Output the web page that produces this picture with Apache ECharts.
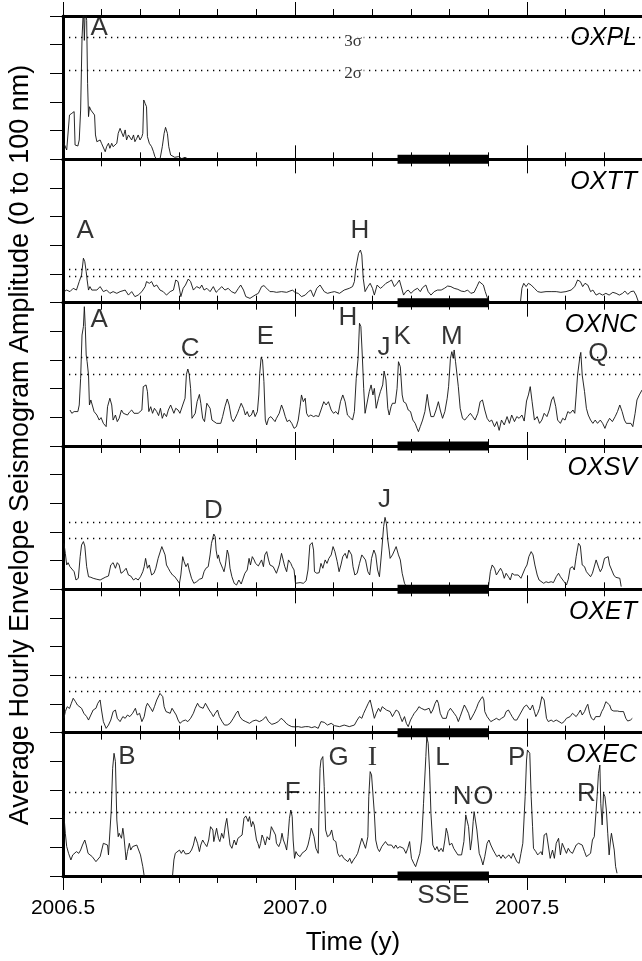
<!DOCTYPE html>
<html><head><meta charset="utf-8">
<script src="https://cdn.jsdelivr.net/npm/echarts@6/dist/echarts.min.js"></script>
<style>html,body{margin:0;padding:0;background:#fff}#c{width:642px;height:961px}</style>
</head><body><div id="c"></div>
<script>
// ---------- data ----------
const X_MIN = 2006.5, X_MAX = 2008.0, X_INTERVAL = 0.5;
const xTickLabels = ['2006.5', '2007.0', '2007.5'];
const stations = ['OXPL', 'OXTT', 'OXNC', 'OXSV', 'OXET', 'OXEC'];
const sigma3 = [84.9, 23.3, 61.9, 46.7, 38.4, 58.4];
const sigma2 = [62.3, 18.6, 50.2, 35.6, 29.1, 44.2];
const SSE = [2007.221, 2007.418];

const OXPL = [[2006.502,11.2],[2006.508,6.5],[2006.511,5.3],[2006.514,30.9],[2006.519,32.1],[2006.524,33.3],[2006.526,10],[2006.532,9.3],[2006.535,13.5],[2006.538,34.4],[2006.541,84.4],[2006.544,106],[2006.546,83],[2006.548,106],[2006.551,97],[2006.553,53],[2006.555,29.8],[2006.557,36.7],[2006.560,34.4],[2006.564,35.6],[2006.568,30.9],[2006.570,17],[2006.573,12.3],[2006.576,11.2],[2006.580,13.5],[2006.583,11.2],[2006.587,12.3],[2006.591,5.3],[2006.594,8.8],[2006.598,11.2],[2006.601,7.7],[2006.605,11.2],[2006.608,8.8],[2006.612,7.7],[2006.616,11.2],[2006.619,18.1],[2006.623,21.6],[2006.626,22.8],[2006.630,15.8],[2006.634,20.5],[2006.637,13.5],[2006.641,17],[2006.644,15.8],[2006.648,13.5],[2006.652,17],[2006.655,12.3],[2006.659,14.7],[2006.662,17],[2006.666,13.5],[2006.670,15.8],[2006.672,18.1],[2006.674,41.4],[2006.677,39],[2006.680,36.7],[2006.682,15.8],[2006.686,11.2],[2006.691,8.8],[2006.695,5.3],[2006.698,1.9],[2006.702,0],[2006.709,0],[2006.714,8.8],[2006.718,18.1],[2006.721,22.3],[2006.725,18.1],[2006.728,8.8],[2006.732,3],[2006.736,1.9],[2006.741,1.4],[2006.749,1.9],[2006.756,0.5],[2006.763,1.4],[2006.768,0.5]];

const OXTT = [[2006.502,7.7],[2006.508,8.8],[2006.515,7.7],[2006.522,10],[2006.529,8.8],[2006.535,14.7],[2006.540,19.3],[2006.544,31],[2006.547,28.6],[2006.550,21.6],[2006.552,15.8],[2006.555,8.8],[2006.558,11.2],[2006.562,8.8],[2006.565,10],[2006.573,8.8],[2006.580,11.2],[2006.587,7.7],[2006.594,8.8],[2006.601,6.5],[2006.608,7.7],[2006.616,6.5],[2006.623,7.7],[2006.634,8.8],[2006.641,5.3],[2006.648,7.7],[2006.655,4.2],[2006.662,5.3],[2006.670,7.7],[2006.677,11.2],[2006.680,14.7],[2006.686,13.5],[2006.691,14.7],[2006.696,11.2],[2006.702,12.3],[2006.709,8.8],[2006.716,7.7],[2006.723,5.3],[2006.731,7.7],[2006.738,8.8],[2006.743,15.8],[2006.748,14.7],[2006.754,4.2],[2006.759,10],[2006.764,12.3],[2006.770,16.5],[2006.775,14.7],[2006.781,8.8],[2006.788,11.2],[2006.795,10],[2006.799,12.3],[2006.804,8.8],[2006.810,10],[2006.817,7.7],[2006.824,11.2],[2006.830,7.2],[2006.835,8.8],[2006.842,11.2],[2006.849,8.8],[2006.856,10],[2006.863,7.7],[2006.871,6.5],[2006.878,10],[2006.883,12.3],[2006.889,8.8],[2006.894,4.2],[2006.903,3],[2006.914,5.3],[2006.921,6.5],[2006.928,11.2],[2006.933,11.9],[2006.939,10],[2006.946,7.7],[2006.953,7.7],[2006.960,7.2],[2006.971,7.7],[2006.982,7.2],[2006.989,8.1],[2006.995,8.8],[2007.000,7],[2007.007,6.5],[2007.014,4.2],[2007.022,5.3],[2007.029,7.7],[2007.034,8.8],[2007.040,4.2],[2007.047,10],[2007.054,12.3],
[2007.063,7.7],[2007.070,6.5],[2007.078,7.2],[2007.085,7.7],[2007.096,6.5],[2007.106,8.8],[2007.117,10],[2007.124,11.2],[2007.128,14.7],[2007.131,24],[2007.137,34.4],[2007.141,36.7],[2007.144,33.3],[2007.147,17],[2007.151,7.7],[2007.157,11.2],[2007.162,13.5],[2007.167,10],[2007.171,5.3],[2007.177,12.3],[2007.184,10],[2007.189,11.2],[2007.196,13.5],[2007.203,14.7],[2007.208,15.8],[2007.214,11.2],[2007.220,13.5],[2007.225,15.8],[2007.228,12.3],[2007.234,5.3],[2007.239,7.7],[2007.244,8.8],[2007.250,6.5],[2007.257,8.8],[2007.264,10],[2007.270,7.7],[2007.275,10.5],[2007.282,12.3],[2007.287,7.7],[2007.293,5.3],[2007.300,7.7],[2007.307,8.8],[2007.315,8.8],[2007.322,10],[2007.329,11.6],[2007.336,11.2],[2007.343,10],[2007.351,9.3],[2007.358,8.1],[2007.365,7.7],[2007.372,8.8],[2007.379,6.5],[2007.386,7.2],[2007.392,11.2],[2007.397,14.7],[2007.401,13.5],[2007.406,12.3],[2007.410,7.7],[2007.415,3],[2007.419,0.7],[2007.450,null],
[2007.486,0.7],[2007.489,10],[2007.493,13.5],[2007.498,11.2],[2007.503,13.5],[2007.509,12.3],[2007.516,10],[2007.523,7.7],[2007.530,7.2],[2007.541,7.7],[2007.552,7.7],[2007.563,7.7],[2007.573,7.2],[2007.584,7.7],[2007.595,8.8],[2007.603,11.2],[2007.609,15.8],[2007.615,14.7],[2007.620,11.2],[2007.625,13.5],[2007.631,12.3],[2007.637,7.7],[2007.642,8.8],[2007.649,5.3],[2007.656,6.5],[2007.663,5.3],[2007.670,6.5],[2007.677,5.3],[2007.685,7.2],[2007.692,6.5],[2007.699,5.3],[2007.706,6.5],[2007.711,8.1],[2007.717,5.8],[2007.724,7.7],[2007.730,8.1],[2007.735,5.3],[2007.740,0.7]];

const OXNC = [[2006.515,25.1],[2006.519,22.8],[2006.524,24],[2006.528,25.1],[2006.532,24],[2006.535,28.6],[2006.538,47.2],[2006.541,77.4],[2006.544,83.3],[2006.546,97.2],[2006.548,83.3],[2006.550,63.5],[2006.552,58.8],[2006.555,49.5],[2006.557,28.6],[2006.560,32.1],[2006.564,31.4],[2006.567,24],[2006.573,21.6],[2006.578,18.1],[2006.582,19.8],[2006.587,15.8],[2006.593,13.5],[2006.596,27.4],[2006.601,33.3],[2006.605,28.6],[2006.608,18.1],[2006.613,21.6],[2006.617,17],[2006.621,19.3],[2006.626,25.1],[2006.630,22.8],[2006.634,24],[2006.639,21.6],[2006.643,23.5],[2006.648,25.1],[2006.653,22.8],[2006.657,21.6],[2006.662,22.8],[2006.666,21.6],[2006.670,25.1],[2006.673,41.4],[2006.679,42.6],[2006.682,37.9],[2006.685,24],[2006.689,27.4],[2006.693,22.8],[2006.697,26.3],[2006.702,24],[2006.706,21.2],[2006.710,26.3],[2006.714,19.3],[2006.718,22.8],[2006.723,20.5],[2006.727,25.1],[2006.732,28.6],[2006.736,29.8],[2006.739,22.8],[2006.743,26.3],[2006.748,25.1],[2006.752,22.8],[2006.758,28.6],[2006.763,33.3],[2006.766,50],[2006.769,53.7],[2006.772,50],[2006.775,40.2],[2006.778,19.3],[2006.781,18.1],[2006.785,22.8],[2006.789,30.9],[2006.794,36],[2006.797,29.8],[2006.801,19.3],[2006.805,17],[2006.810,29.8],[2006.813,30.9],[2006.817,26.3],[2006.821,18.1],[2006.825,19.3],[2006.831,15.8],[2006.835,14.7],[2006.840,15.8],[2006.844,20.5],[2006.849,27.4],[2006.854,32.8],[2006.858,28.6],[2006.863,19.3],[2006.867,17],[2006.871,19.3],[2006.876,22.8],[2006.880,26.3],[2006.884,29.8],[2006.889,26.3],[2006.893,21.6],[2006.897,24],[2006.901,20.5],[2006.906,21.6],[2006.910,25.1],[2006.914,20.5],[2006.919,24],[2006.922,35.6],[2006.924,50.7],[2006.927,61.6],[2006.930,60],[2006.933,44.9],[2006.936,18.1],[2006.939,14.7],[2006.943,19.3],[2006.948,20.5],[2006.952,21.6],[2006.957,17],[2006.960,19.3],[2006.966,22.8],[2006.971,28.6],[2006.975,25.1],[2006.979,20.5],[2006.983,17],[2006.988,18.1],[2006.993,15.8],[2006.998,12.3],[2007.003,13.5],[2007.007,18.1],[2007.011,27.4],[2007.014,35.6],[2007.018,30.9],[2007.022,33.3],[2007.025,22.8],[2007.029,20.5],[2007.034,21.6],[2007.040,20.5],[2007.045,21.2],[2007.051,20.5],
[2007.056,25.1],[2007.062,30.9],[2007.067,28.6],[2007.072,30.9],[2007.078,25.1],[2007.083,22.8],[2007.088,24],[2007.093,22.1],[2007.098,30.9],[2007.103,35.6],[2007.108,30.9],[2007.113,21.6],[2007.119,19.8],[2007.124,18.1],[2007.128,24],[2007.132,47.2],[2007.136,61.2],[2007.139,85.6],[2007.142,83.3],[2007.145,63.5],[2007.148,40.2],[2007.151,22.8],[2007.155,22.8],[2007.160,37.9],[2007.164,42.6],[2007.168,35.6],[2007.171,40.2],[2007.175,26.3],[2007.180,33.3],[2007.184,37.9],[2007.189,42.6],[2007.192,52.3],[2007.196,46],[2007.200,26.3],[2007.203,21.6],[2007.207,27.4],[2007.210,29.8],[2007.216,29.8],[2007.220,40.2],[2007.223,58.8],[2007.227,55.3],[2007.231,35.6],[2007.234,30.9],[2007.239,29.8],[2007.244,25.1],[2007.249,24],[2007.254,18.1],[2007.259,15.8],[2007.263,12.3],[2007.266,10],[2007.270,13.5],[2007.275,18.1],[2007.280,24],[2007.285,36],[2007.288,28.6],[2007.293,20.5],[2007.299,20.5],[2007.304,25.1],[2007.309,30.9],[2007.313,25.1],[2007.318,19.3],[2007.323,24],[2007.328,33.3],[2007.331,41.4],[2007.335,61.2],[2007.338,65.8],[2007.341,61.2],[2007.343,67],[2007.346,58.8],[2007.349,60],[2007.352,41.4],[2007.356,26.3],[2007.361,19.3],[2007.366,18.1],[2007.372,20.5],[2007.378,22.8],[2007.383,20.5],[2007.388,18.1],[2007.394,22.8],[2007.399,30.9],[2007.404,32.1],[2007.409,25.1],[2007.414,19.3],[2007.419,17],[2007.424,18.1],[2007.430,13.5],[2007.435,17],[2007.440,10.9],[2007.445,18.1],[2007.451,14.7],[2007.457,20.5],[2007.462,15.8],[2007.467,21.6],[2007.473,17],[2007.478,20.5],[2007.483,19.3],[2007.489,21.6],[2007.494,17.4],[2007.499,31.4],[2007.503,35.6],[2007.507,41.4],[2007.511,30.9],[2007.516,18.1],[2007.522,20.5],[2007.527,15.8],[2007.532,18.1],[2007.537,22.8],[2007.543,20.5],[2007.548,25.1],[2007.553,32.1],[2007.557,34.4],[2007.562,27.4],[2007.566,18.1],[2007.572,15.8],[2007.577,19.3],[2007.582,18.1],[2007.588,24],[2007.593,22.8],[2007.599,25.1],[2007.603,22.8],[2007.606,35.6],[2007.609,49.5],[2007.614,62.3],[2007.616,65.3],[2007.619,49.5],[2007.624,37.9],[2007.628,26.3],[2007.632,21.6],[2007.637,18.1],[2007.642,15.8],[2007.647,18.1],[2007.652,15.8],[2007.658,18.1],[2007.663,15.8],[2007.668,12.3],[2007.672,15.8],[2007.678,19.3],[2007.684,17],[2007.690,20.5],[2007.695,24],[2007.700,28.6],[2007.705,24],[2007.710,18.1],[2007.714,15.8],[2007.718,17],[2007.724,15.8],[2007.728,13.5],[2007.733,22.8],[2007.737,32.1],[2007.742,35.6],[2007.748,39.1]];

const OXSV = [[2006.502,32.1],[2006.505,25.1],[2006.508,17],[2006.511,18.6],[2006.515,15.8],[2006.519,17],[2006.524,12.3],[2006.528,6.5],[2006.533,7.7],[2006.537,22.8],[2006.540,30.9],[2006.544,33.3],[2006.547,30.2],[2006.551,15.8],[2006.555,8.8],[2006.560,8.4],[2006.565,7.7],[2006.573,7],[2006.580,6.5],[2006.583,5.3],[2006.591,8.4],[2006.598,9.3],[2006.603,17],[2006.608,18.6],[2006.613,14.7],[2006.617,18.6],[2006.621,17],[2006.625,11.2],[2006.630,12.3],[2006.636,14.7],[2006.641,10],[2006.646,9.3],[2006.652,6.5],[2006.657,7.7],[2006.662,6.5],[2006.667,8.8],[2006.672,12.3],[2006.675,15.8],[2006.678,21.6],[2006.682,14.7],[2006.686,17],[2006.691,10],[2006.696,11.2],[2006.700,14.7],[2006.705,21.6],[2006.709,22.8],[2006.713,29.8],[2006.716,30.9],[2006.720,24],[2006.723,17],[2006.727,14.7],[2006.731,12.3],[2006.736,10],[2006.741,8.8],[2006.746,6.5],[2006.751,4.2],[2006.754,10],[2006.758,22.8],[2006.761,19.3],[2006.765,15.8],[2006.769,18.1],[2006.772,13.5],[2006.777,7.7],[2006.782,4.2],[2006.788,5.3],[2006.794,7],[2006.800,7.7],[2006.804,12.3],[2006.808,14.7],[2006.813,15.8],[2006.817,24],[2006.820,32.1],[2006.825,38.6],[2006.828,36.7],[2006.830,27.4],[2006.833,21.6],[2006.835,24],[2006.838,19.3],[2006.841,18.1],[2006.844,14.7],[2006.847,12.3],[2006.850,17],[2006.854,27.4],[2006.857,24],[2006.860,14.7],[2006.864,8.8],[2006.869,4.2],[2006.874,3],[2006.879,6.5],[2006.884,3.7],[2006.887,6.5],[2006.892,11.2],[2006.897,13.5],[2006.901,21.6],[2006.904,17],[2006.908,22.8],[2006.912,20.5],[2006.915,18.1],[2006.917,19.3],[2006.921,16.3],[2006.925,15.8],[2006.928,20.5],[2006.932,15.8],[2006.935,24],[2006.939,26.3],[2006.943,20.5],[2006.946,17],[2006.950,18.1],[2006.953,15.8],[2006.957,15.8],[2006.960,11.2],[2006.966,17],[2006.971,25.1],[2006.975,24],[2006.978,15.8],[2006.982,12.3],[2006.986,20.5],[2006.991,18.1],[2006.994,15.8],[2006.998,13.5],[2007.001,4.2],[2007.005,4.2],[2007.011,4.7],[2007.018,4.2],[2007.024,6],[2007.028,13.5],[2007.032,30.9],[2007.037,32.6],[2007.040,27.4],[2007.042,12.3],[2007.047,11.2],[2007.052,11.6],
[2007.056,18.1],[2007.060,14.7],[2007.065,20.5],[2007.069,18.1],[2007.073,21.6],[2007.078,24],[2007.082,29.8],[2007.086,26.3],[2007.091,19.3],[2007.095,12.3],[2007.099,17],[2007.103,22.8],[2007.108,25.1],[2007.112,21.6],[2007.116,27.4],[2007.119,28.6],[2007.122,24],[2007.125,15.8],[2007.129,10],[2007.134,11.2],[2007.139,18.1],[2007.144,24],[2007.148,24],[2007.152,20.5],[2007.157,12.3],[2007.161,10],[2007.165,21.6],[2007.170,27.4],[2007.174,24],[2007.178,13.5],[2007.182,8.8],[2007.187,27.4],[2007.191,43.7],[2007.194,50.2],[2007.197,46],[2007.200,34.4],[2007.203,27.4],[2007.205,21.6],[2007.210,24],[2007.214,25.1],[2007.218,29.8],[2007.223,24],[2007.227,20.5],[2007.231,11.2],[2007.236,4.2],[2007.240,1.9],[2007.330,null],
[2007.417,1.9],[2007.421,12.3],[2007.425,17],[2007.430,14.7],[2007.434,10],[2007.438,11.2],[2007.443,14.7],[2007.447,12.3],[2007.451,7.7],[2007.455,11.2],[2007.460,8.8],[2007.464,6.5],[2007.468,11.2],[2007.473,10],[2007.477,8.8],[2007.481,10],[2007.487,7.7],[2007.491,8.8],[2007.496,14.7],[2007.500,17],[2007.504,22.8],[2007.509,26.3],[2007.513,24],[2007.517,17],[2007.522,10],[2007.526,6.5],[2007.530,5.3],[2007.536,4.2],[2007.541,5.3],[2007.546,4.7],[2007.552,5.3],[2007.557,4.7],[2007.563,8.8],[2007.568,11.2],[2007.572,8.8],[2007.576,10],[2007.580,5.3],[2007.585,3],[2007.589,7],[2007.593,14.7],[2007.598,15.8],[2007.602,13.5],[2007.606,22.8],[2007.611,32.1],[2007.615,30.2],[2007.619,17],[2007.624,15.8],[2007.628,12.3],[2007.632,13.5],[2007.637,8.8],[2007.641,11.2],[2007.645,12.3],[2007.649,20.5],[2007.652,21.6],[2007.655,14.7],[2007.658,12.3],[2007.662,14.7],[2007.667,21.6],[2007.671,22.8],[2007.675,22.8],[2007.678,17],[2007.682,18.1],[2007.687,10],[2007.691,8.4],[2007.695,9.3],[2007.700,7.7],[2007.703,1.9]];

const OXET = [[2006.502,10],[2006.505,14.7],[2006.509,18.1],[2006.514,16.9],[2006.518,20.5],[2006.522,24],[2006.527,21.6],[2006.531,19.3],[2006.535,19.8],[2006.540,17],[2006.545,13.5],[2006.551,11.2],[2006.555,8.8],[2006.560,12.3],[2006.565,15.8],[2006.571,17],[2006.575,20.5],[2006.580,22.8],[2006.583,15.8],[2006.587,7.7],[2006.593,3],[2006.598,5.3],[2006.603,8.8],[2006.608,14.7],[2006.613,15.8],[2006.617,10],[2006.623,7.7],[2006.629,11.2],[2006.634,10],[2006.639,12.3],[2006.644,11.2],[2006.650,13.5],[2006.656,17],[2006.660,12.3],[2006.665,13.5],[2006.670,7.7],[2006.675,11.2],[2006.679,18.1],[2006.682,20.5],[2006.685,21.6],[2006.689,17],[2006.693,14.7],[2006.697,18.1],[2006.702,22.8],[2006.706,24],[2006.709,27.4],[2006.712,28.6],[2006.715,25.1],[2006.718,18.1],[2006.722,14.7],[2006.726,15.8],[2006.731,13.5],[2006.735,17],[2006.739,15.8],[2006.744,12.3],[2006.748,8.8],[2006.752,6.5],[2006.758,8.1],[2006.764,8.8],[2006.769,7.7],[2006.775,10],[2006.781,13.5],[2006.785,17],[2006.790,20.5],[2006.794,18.1],[2006.798,19.3],[2006.802,17],[2006.807,20.5],[2006.811,21.6],[2006.815,15.8],[2006.820,13.5],[2006.824,11.2],[2006.828,13.5],[2006.833,15.8],[2006.837,11.2],[2006.843,7.7],[2006.848,5.3],[2006.854,5.3],[2006.860,6.5],[2006.867,10],[2006.873,13.5],[2006.877,15.1],[2006.881,11.2],[2006.887,8.8],[2006.894,7.7],[2006.902,6.5],[2006.909,8.1],[2006.916,8.8],[2006.923,7.7],[2006.930,8.8],[2006.937,11.2],[2006.943,7.7],[2006.950,5.8],[2006.957,6.5],[2006.964,7.7],[2006.970,10],[2006.975,8.8],[2006.981,6.5],[2006.986,5.3],[2006.993,4.2],[2007.000,4],[2007.007,4.2],[2007.014,3.7],[2007.022,4.2],[2007.029,4.2],[2007.036,3.5],[2007.043,4.2],[2007.050,3],[2007.056,7.7],
[2007.063,7.2],[2007.070,5.3],[2007.078,6.5],[2007.085,4.9],[2007.096,4.2],[2007.106,5.3],[2007.117,4.2],[2007.128,5.3],[2007.134,8.8],[2007.139,11.2],[2007.144,10],[2007.148,13.5],[2007.153,17],[2007.158,20.5],[2007.162,22.8],[2007.167,15.8],[2007.171,10],[2007.175,13.5],[2007.180,17],[2007.184,14.7],[2007.188,18.1],[2007.192,17],[2007.197,15.8],[2007.201,17],[2007.205,14.7],[2007.210,11.2],[2007.214,13.5],[2007.218,15.8],[2007.223,14.7],[2007.227,11.2],[2007.231,7.7],[2007.236,11.2],[2007.240,6.5],[2007.244,4.2],[2007.249,8.8],[2007.253,11.2],[2007.257,13.5],[2007.263,15.8],[2007.267,18.1],[2007.272,17],[2007.276,18.1],[2007.280,15.8],[2007.284,14.7],[2007.289,17],[2007.293,13.5],[2007.297,15.8],[2007.302,20.5],[2007.306,22.8],[2007.309,20.5],[2007.313,13.5],[2007.318,10],[2007.322,11.2],[2007.326,10],[2007.330,14.7],[2007.335,17],[2007.339,15.8],[2007.343,13.5],[2007.348,11.2],[2007.352,7.7],[2007.356,11.2],[2007.361,15.8],[2007.365,19.3],[2007.369,17],[2007.374,13.5],[2007.378,8.8],[2007.382,10],[2007.386,13.5],[2007.391,17],[2007.395,20.5],[2007.399,22.8],[2007.404,25.1],[2007.407,22.8],[2007.409,14.7],[2007.414,11.2],[2007.418,10],[2007.422,7.7],[2007.428,8.8],[2007.434,10],[2007.440,8.8],[2007.445,10],[2007.451,11.2],[2007.455,14.7],[2007.460,15.8],[2007.464,13.5],[2007.468,11.2],[2007.473,8.8],[2007.478,8.8],[2007.484,12.3],[2007.490,15.8],[2007.494,18.1],[2007.499,19.3],[2007.503,18.1],[2007.507,15.8],[2007.512,19.3],[2007.516,14.7],[2007.519,11.2],[2007.523,13.5],[2007.527,17],[2007.532,25.1],[2007.534,26.3],[2007.537,22.8],[2007.542,10],[2007.546,7.7],[2007.552,8.8],[2007.557,7.7],[2007.563,8.8],[2007.569,7.7],[2007.575,6.5],[2007.580,7.7],[2007.585,10],[2007.589,8.8],[2007.593,11.2],[2007.598,13.5],[2007.602,14.7],[2007.606,11.2],[2007.611,13.5],[2007.615,15.8],[2007.619,12.3],[2007.624,14.7],[2007.628,18.1],[2007.631,19.8],[2007.635,13.5],[2007.639,10],[2007.644,8.8],[2007.648,11.2],[2007.652,10],[2007.657,11.2],[2007.661,14.7],[2007.665,17],[2007.670,21.6],[2007.674,22.8],[2007.678,19.3],[2007.682,15.8],[2007.687,15.1],[2007.691,15.8],[2007.695,15.1],[2007.700,14.7],[2007.704,14.2],[2007.708,14.7],[2007.713,10],[2007.717,8.1],[2007.723,8.8],[2007.727,10]];

const OXEC = [[2006.502,42.6],[2006.505,29.8],[2006.508,20.5],[2006.512,15.8],[2006.517,11.2],[2006.521,14.7],[2006.525,15.3],[2006.529,17],[2006.534,15.8],[2006.538,18.1],[2006.542,21.6],[2006.547,25.1],[2006.550,21.6],[2006.554,15.8],[2006.558,14.7],[2006.563,13.5],[2006.567,14.7],[2006.571,10],[2006.575,10.7],[2006.580,13.5],[2006.584,14.7],[2006.587,22.8],[2006.591,24],[2006.596,21.6],[2006.598,14.7],[2006.601,15.8],[2006.604,46],[2006.607,75.1],[2006.610,85.6],[2006.613,79.8],[2006.616,39.1],[2006.619,27.4],[2006.621,29.8],[2006.626,26.3],[2006.629,33.3],[2006.631,28.6],[2006.636,11.2],[2006.639,17],[2006.643,22.8],[2006.646,18.1],[2006.650,20.5],[2006.654,19.3],[2006.659,21.6],[2006.663,20.5],[2006.667,14.7],[2006.672,6.5],[2006.675,0],[2006.700,null],
[2006.736,0],[2006.739,11.2],[2006.742,15.8],[2006.746,14.7],[2006.751,18.1],[2006.755,15.8],[2006.759,18.1],[2006.764,15.3],[2006.768,16.3],[2006.772,15.8],[2006.777,18.1],[2006.781,21.6],[2006.785,27.4],[2006.790,22.8],[2006.794,17],[2006.797,21.6],[2006.801,25.1],[2006.805,22.8],[2006.810,20.5],[2006.814,25.1],[2006.818,34.4],[2006.823,32.1],[2006.825,24],[2006.828,24],[2006.831,33.3],[2006.835,26.3],[2006.838,24],[2006.842,29.8],[2006.846,26.3],[2006.850,35.6],[2006.853,40.2],[2006.856,32.1],[2006.860,21.6],[2006.864,19.3],[2006.869,25.1],[2006.873,21.6],[2006.877,26.3],[2006.881,27.4],[2006.886,28.6],[2006.890,40.2],[2006.894,41.9],[2006.899,38],[2006.902,41.4],[2006.906,34.4],[2006.909,38],[2006.912,35.6],[2006.915,35.6],[2006.917,25.1],[2006.920,22.8],[2006.923,19.3],[2006.926,22.8],[2006.929,28.6],[2006.932,26.3],[2006.936,21.6],[2006.940,27.4],[2006.945,25.1],[2006.949,34.4],[2006.953,33.3],[2006.958,28.6],[2006.960,22.8],[2006.965,20.5],[2006.969,24],[2006.972,29.8],[2006.975,25.1],[2006.979,21.6],[2006.982,18.1],[2006.985,27.4],[2006.988,40.2],[2006.991,46],[2006.994,41.4],[2006.996,25.1],[2006.999,12.3],[2007.002,17],[2007.006,14.7],[2007.011,13.5],[2007.015,15.8],[2007.019,14.7],[2007.024,18.1],[2007.028,21.6],[2007.032,27.4],[2007.035,33.3],[2007.038,32.1],[2007.041,27.4],[2007.045,19.3],[2007.050,15.8],[2007.052,49.5],[2007.054,75],
[2007.056,80.9],[2007.060,83.3],[2007.063,62.3],[2007.066,32.1],[2007.070,27.4],[2007.075,28.6],[2007.079,32.1],[2007.083,25.1],[2007.088,24],[2007.092,15.8],[2007.096,13.5],[2007.101,14.7],[2007.105,12.3],[2007.109,13.5],[2007.114,10],[2007.118,12.3],[2007.122,8.8],[2007.126,11.2],[2007.131,13.5],[2007.135,15.8],[2007.139,17],[2007.144,26.3],[2007.148,25.1],[2007.152,19.3],[2007.157,27.4],[2007.159,55.3],[2007.162,72.8],[2007.165,70.5],[2007.168,69.3],[2007.171,43.7],[2007.174,25.1],[2007.178,19.3],[2007.182,17],[2007.187,20.5],[2007.191,21.6],[2007.195,24],[2007.200,21.6],[2007.204,20.5],[2007.208,21.6],[2007.213,19.3],[2007.217,21.6],[2007.221,19.3],[2007.226,20.5],[2007.230,21.6],[2007.234,19.3],[2007.239,15.8],[2007.243,19.3],[2007.247,24],[2007.251,12.3],[2007.256,8.8],[2007.260,6.5],[2007.264,7.7],[2007.269,15.8],[2007.273,25.1],[2007.277,50.7],[2007.282,83.3],[2007.284,97.2],[2007.287,92.6],[2007.290,74],[2007.293,43.7],[2007.297,21.6],[2007.302,18.1],[2007.306,20.5],[2007.310,17],[2007.315,19.3],[2007.319,17],[2007.323,25.1],[2007.326,33.3],[2007.329,29.8],[2007.333,21.6],[2007.338,22.8],[2007.342,19.3],[2007.346,18.1],[2007.351,14.7],[2007.355,13.5],[2007.359,14.7],[2007.364,24],[2007.368,42.6],[2007.371,43.7],[2007.374,34.4],[2007.378,18.1],[2007.381,25.1],[2007.384,37.9],[2007.386,44.9],[2007.389,43.7],[2007.392,32.1],[2007.397,15.8],[2007.401,12.3],[2007.405,7.7],[2007.409,13.5],[2007.414,22.8],[2007.418,25.1],[2007.422,21.6],[2007.427,18.1],[2007.431,15.8],[2007.435,13.5],[2007.440,14.7],[2007.444,12.3],[2007.448,14.7],[2007.453,12.3],[2007.457,13.5],[2007.461,14.7],[2007.466,12.3],[2007.470,15.8],[2007.474,17],[2007.478,10],[2007.483,8.8],[2007.487,15.8],[2007.491,22.8],[2007.496,55.3],[2007.499,80.9],[2007.501,87.9],[2007.506,85.6],[2007.509,55.3],[2007.512,34.4],[2007.514,19.3],[2007.519,17],[2007.523,14.7],[2007.527,13.5],[2007.530,17],[2007.533,14.7],[2007.537,28.6],[2007.542,29.8],[2007.546,29.8],[2007.550,12.3],[2007.555,18.1],[2007.559,12.3],[2007.563,22.8],[2007.568,26.3],[2007.572,14.7],[2007.576,22.8],[2007.580,21.6],[2007.585,15.8],[2007.589,19.3],[2007.593,17],[2007.598,15.8],[2007.602,17],[2007.606,21.6],[2007.611,22.8],[2007.615,24],[2007.619,21.6],[2007.624,17],[2007.628,13.5],[2007.632,14.7],[2007.637,15.8],[2007.641,25.1],[2007.645,27.4],[2007.648,26.3],[2007.651,55.3],[2007.654,71.6],[2007.657,77.4],[2007.659,50.7],[2007.662,35.6],[2007.665,57.7],[2007.668,55.3],[2007.671,46],[2007.674,29.8],[2007.677,14.7],[2007.680,25.1],[2007.682,29.8],[2007.685,28.6],[2007.688,18.1],[2007.691,6.5],[2007.694,1.9]];

// event letters: [letter, time, level]
const PEAKS_OXPL = [['A', 2006.578, 91.6]];
const PEAKS_OXTT = [['A', 2006.548, 50], ['H', 2007.140, 50]];
const PEAKS_OXNC = [['A', 2006.578, 87.9], ['C', 2006.774, 67.9], ['E', 2006.936, 76], ['H', 2007.114, 89.5], ['J', 2007.192, 68.4], ['K', 2007.231, 76.4], ['M', 2007.338, 76], ['Q', 2007.654, 64.2]];
const PEAKS_OXSV = [['D', 2006.824, 54.6], ['J', 2007.193, 62.3]];
const PEAKS_OXET = [];
const PEAKS_OXEC = [['B', 2006.638, 83.2], ['F', 2006.995, 57.9], ['G', 2007.094, 82.3], ['I', 2007.167, 82.3], ['L', 2007.318, 82.3], ['N', 2007.360, 55.1], ['O', 2007.406, 55.1], ['P', 2007.478, 82.3], ['R', 2007.628, 57.2]];
const SIGMA_LABEL_T = 2007.125;

// ---------- layout ----------
const W = 642, LEFT = 63, PX_PER_YEAR = 464, PLOT_TOP = 16, PANEL_H = 143.33;
const RIGHT = W - (LEFT + (X_MAX - X_MIN) * PX_PER_YEAR);
const SANS = 'Liberation Sans', SERIF = 'Liberation Serif';

const allData = [OXPL, OXTT, OXNC, OXSV, OXET, OXEC];
const allPeaks = [PEAKS_OXPL, PEAKS_OXTT, PEAKS_OXNC, PEAKS_OXSV, PEAKS_OXET, PEAKS_OXEC];

const grid = [], xAxis = [], yAxis = [], series = [], title = [];
for (let i = 0; i < 6; i++) {
  const top = PLOT_TOP + i * PANEL_H;
  const last = i === 5;
  grid.push({ left: LEFT, right: RIGHT, top: top, height: PANEL_H, containLabel: false, outerBoundsMode: 'none' });
  const base = {
    type: 'value', gridIndex: i, min: X_MIN, max: X_MAX, interval: X_INTERVAL,
    axisLine: { show: true, onZero: false, lineStyle: { color: '#000', width: 3 } },
    axisTick: { show: true, inside: false, length: 14, lineStyle: { color: '#000', width: 1 } },
    minorTick: { show: true, splitNumber: 6, length: 7, lineStyle: { color: '#000', width: 1 } },
    splitLine: { show: false }, minorSplitLine: { show: false }
  };
  xAxis.push(Object.assign({}, base, {
    position: 'bottom',
    axisLabel: last ? {
      show: true, margin: 22, fontSize: 21, fontFamily: SANS, color: '#000',
      formatter: v => { const s = v.toFixed(1); return xTickLabels.indexOf(s) >= 0 ? s : ''; }
    } : { show: false }
  }));
  xAxis.push(Object.assign({}, base, { position: 'top', axisLabel: { show: false } }));
  yAxis.push({
    type: 'value', gridIndex: i, min: 0, max: 100, interval: 20,
    axisLine: { show: true, onZero: false, lineStyle: { color: '#000', width: 3 } },
    axisTick: { show: true, inside: false, length: 13, lineStyle: { color: '#000', width: 1 } },
    axisLabel: { show: false }, splitLine: { show: false }
  });
  title.push({
    text: stations[i], right: 5, top: top + 10, padding: 0,
    textStyle: { fontFamily: SANS, fontStyle: 'italic', fontWeight: 'normal', fontSize: 25, color: '#000' }
  });
  series.push({
    name: stations[i], type: 'line', xAxisIndex: 2 * i, yAxisIndex: i,
    data: allData[i], showSymbol: false, symbol: 'none', connectNulls: false,
    lineStyle: { color: '#111', width: 0.9 }, z: 3, silent: true,
    markLine: {
      silent: true, symbol: 'none', label: { show: false },
      lineStyle: { color: '#000', width: 1.3, type: [1.3, 4.7] },
      data: [{ yAxis: sigma3[i] }, { yAxis: sigma2[i] }]
    }
  });
  series.push({
    type: 'line', xAxisIndex: 2 * i, yAxisIndex: i, clip: false, silent: true,
    data: [[SSE[0], 0], [SSE[1], 0]], symbol: 'none',
    lineStyle: { color: '#000', width: 9, cap: 'butt' }, z: 6
  });
  const labels = allPeaks[i].map(p => {
    const item = { name: p[0], value: [p[1], p[2]] };
    if (p[0] === 'I') item.label = { fontFamily: SERIF, fontSize: 28 };
    return item;
  });
  if (i === 0) {
    labels.push({ name: '3σ', value: [SIGMA_LABEL_T, sigma3[0]], label: { fontFamily: SERIF, fontSize: 17, offset: [0, 4], backgroundColor: '#fff', padding: [0, 2] } });
    labels.push({ name: '2σ', value: [SIGMA_LABEL_T, sigma2[0]], label: { fontFamily: SERIF, fontSize: 17, offset: [0, 3], backgroundColor: '#fff', padding: [0, 2] } });
  }
  if (last) {
    labels.push({ name: 'SSE', value: [(SSE[0] + SSE[1]) / 2, 0], label: { offset: [0, 20] } });
  }
  series.push({
    type: 'scatter', xAxisIndex: 2 * i, yAxisIndex: i, silent: true, clip: false,
    symbolSize: 1, itemStyle: { color: 'rgba(0,0,0,0)' }, z: 8,
    data: labels,
    label: { show: true, position: 'inside', formatter: '{b}', fontFamily: SANS, fontSize: 26, color: '#000' }
  });
}

const chart = echarts.init(document.getElementById('c'), null, { renderer: 'canvas' });
chart.setOption({
  animation: false,
  backgroundColor: '#fff',
  title: title,
  grid: grid, xAxis: xAxis, yAxis: yAxis, series: series,
  graphic: [
    { type: 'text', x: 21, y: 445, rotation: Math.PI / 2,
      style: { text: 'Average Hourly Envelope Seismogram Amplitude (0 to 100 nm)', fontFamily: SANS, fontSize: 27, fill: '#000', align: 'center', verticalAlign: 'middle' } },
    { type: 'text', x: 353, y: 943,
      style: { text: 'Time (y)', fontFamily: SANS, fontSize: 26, fill: '#000', align: 'center', verticalAlign: 'middle' } }
  ]
});
</script></body></html>
